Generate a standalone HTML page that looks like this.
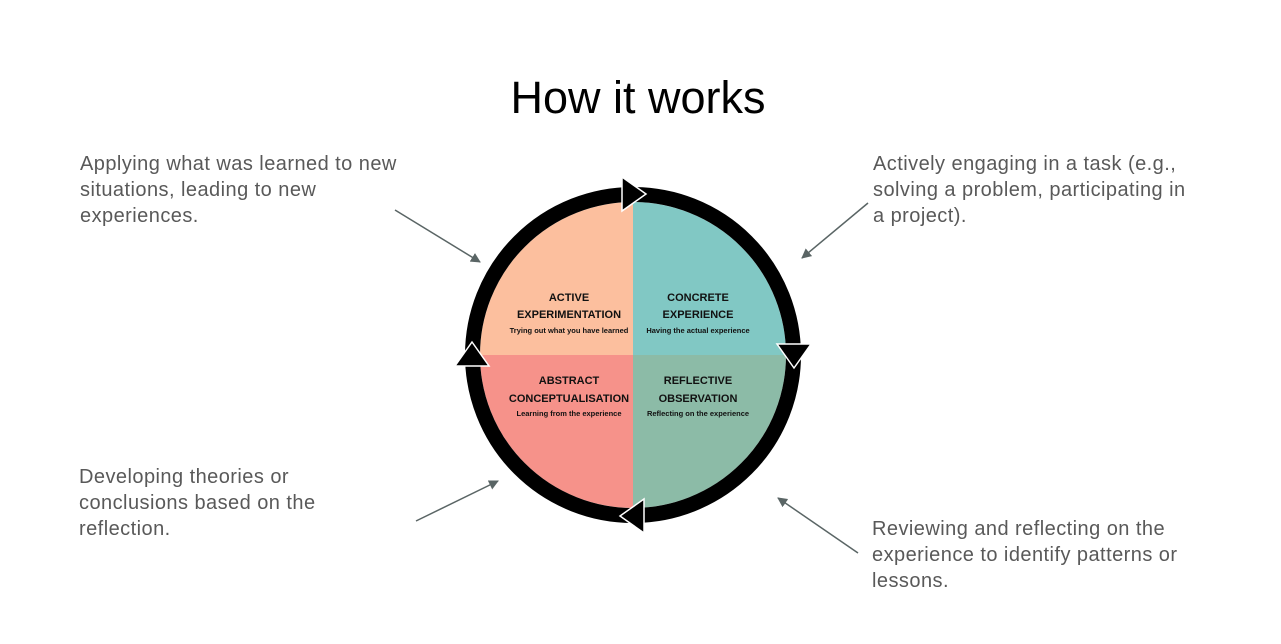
<!DOCTYPE html>
<html><head><meta charset="utf-8"><style>
html,body{margin:0;padding:0;background:#fff;width:1281px;height:644px;overflow:hidden}
</style></head><body>
<svg width="1281" height="644" viewBox="0 0 1281 644" xmlns="http://www.w3.org/2000/svg" font-family="Liberation Sans, Arial, sans-serif">
<text x="638" y="113" font-size="45" text-anchor="middle" fill="#000">How it works</text>
<g font-size="20" fill="#595959" letter-spacing="0.45">
<text x="80" y="170">Applying what was learned to new</text>
<text x="80" y="196">situations, leading to new</text>
<text x="80" y="222">experiences.</text>
<text x="873" y="170">Actively engaging in a task (e.g.,</text>
<text x="873" y="196">solving a problem, participating in</text>
<text x="873" y="222">a project).</text>
<text x="79" y="483">Developing theories or</text>
<text x="79" y="509">conclusions based on the</text>
<text x="79" y="535">reflection.</text>
<text x="872" y="535">Reviewing and reflecting on the</text>
<text x="872" y="561">experience to identify patterns or</text>
<text x="872" y="587">lessons.</text>
</g>
<defs><marker id="ah" markerWidth="10" markerHeight="10" refX="9" refY="5" orient="auto" markerUnits="userSpaceOnUse"><path d="M0,0 L10,5 L0,10 z" fill="#5a6565"/></marker></defs>
<g stroke="#5a6565" stroke-width="1.5" marker-end="url(#ah)">
<line x1="395" y1="210" x2="480" y2="262"/>
<line x1="868" y1="203" x2="802" y2="258"/>
<line x1="416" y1="521" x2="498" y2="481"/>
<line x1="858" y1="553" x2="778" y2="498"/>
</g>
<g transform="translate(633,355)">
<path d="M0,0 L0,-153 A153,153 0 0 0 -153,0 Z" fill="#fcbf9e"/>
<path d="M0,0 L0,-153 A153,153 0 0 1 153,0 Z" fill="#81c8c4"/>
<path d="M0,0 L153,0 A153,153 0 0 1 0,153 Z" fill="#8cbba7"/>
<path d="M0,0 L-153,0 A153,153 0 0 0 0,153 Z" fill="#f6928a"/>
<circle r="160.5" fill="none" stroke="#000" stroke-width="15"/>
<g fill="#000" stroke="#fff" stroke-width="1.5">
<path d="M-11,-178 L13,-161 L-11,-144 Z"/>
<path d="M178,-11 L161,13 L144,-11 Z"/>
<path d="M11,178 L-13,161 L11,144 Z"/>
<path d="M-178,11 L-161,-13 L-144,11 Z"/>
</g>
<g font-weight="bold" fill="#111" text-anchor="middle">
<text x="-64" y="-54" font-size="11">ACTIVE</text>
<text x="-64" y="-37" font-size="11">EXPERIMENTATION</text>
<text x="-64" y="-22" font-size="7.5">Trying out what you have learned</text>
<text x="65" y="-54" font-size="11">CONCRETE</text>
<text x="65" y="-37" font-size="11">EXPERIENCE</text>
<text x="65" y="-22" font-size="7.5">Having the actual experience</text>
<text x="-64" y="29" font-size="11">ABSTRACT</text>
<text x="-64" y="47" font-size="11">CONCEPTUALISATION</text>
<text x="-64" y="61" font-size="7.5">Learning from the experience</text>
<text x="65" y="29" font-size="11">REFLECTIVE</text>
<text x="65" y="47" font-size="11">OBSERVATION</text>
<text x="65" y="61" font-size="7.5">Reflecting on the experience</text>
</g>
</g>
</svg>
</body></html>
